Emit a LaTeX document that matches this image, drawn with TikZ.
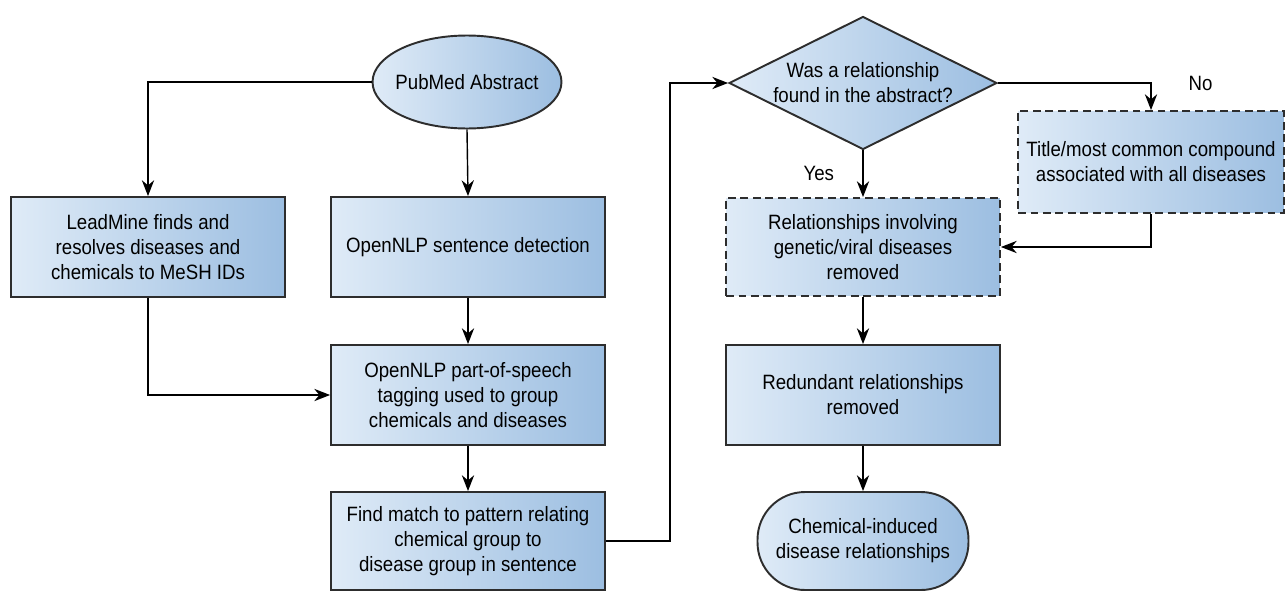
\documentclass[tikz,border=0pt]{standalone}
\usepackage{fontspec}
\setmainfont[FakeStretch=0.9]{Liberation Sans}
\setsansfont[FakeStretch=0.9]{Liberation Sans}
\usetikzlibrary{shapes.geometric,arrows.meta,positioning}
\definecolor{boxlight}{RGB}{223,235,247}
\definecolor{boxdark}{RGB}{156,190,225}
\definecolor{edgegray}{RGB}{45,45,45}
\begin{document}
\begin{tikzpicture}[x=0.02cm,y=-0.02cm,
   font=\sffamily\fontsize{11.8}{14.2}\selectfont,
   fillgrad/.style={left color=boxlight,right color=boxdark,draw=edgegray,line width=1.1pt},
   proc/.style={fillgrad,rectangle,minimum width=5.48cm,minimum height=2cm,align=center,inner sep=2pt},
   opt/.style={proc,dash pattern=on 4.5pt off 2.6pt},
   start/.style={fillgrad,ellipse,minimum width=3.78cm,minimum height=1.86cm,inner xsep=-4pt,inner ysep=0pt},
   decide/.style={fillgrad,diamond,aspect=2,minimum width=5.36cm,minimum height=2.66cm,align=center,inner sep=0pt},
   stop/.style={fillgrad,rectangle,rounded corners=0.95cm,minimum width=4.22cm,minimum height=1.96cm,align=center},
   to/.style={-{Stealth[length=9pt,width=7pt]},line width=0.8pt}]
\useasboundingbox (0,0) rectangle (1285,592);
% left column
\node[start] (abstract) at (467,82) {PubMed Abstract};
\node[proc] (leadmine) at (148,247) {LeadMine finds and\\resolves diseases and\\chemicals to MeSH IDs};
\node[proc] (sentence) at (468,247) {OpenNLP sentence detection};
\node[proc] (postag) at (468,395) {OpenNLP part-of-speech\\tagging used to group\\chemicals and diseases};
\node[proc,minimum height=1.96cm] (match) at (468,541) {Find match to pattern relating\\chemical group to\\disease group in sentence};
% right column
\node[decide] (found) at (863,83) {Was a relationship\\found in the abstract?};
\node[opt,minimum height=1.96cm] (genviral) at (863,247) {Relationships involving\\genetic/viral diseases\\removed};
\node[opt,minimum width=5.32cm,minimum height=2.04cm] (title) at (1151,162) {Title/most common compound\\associated with all diseases};
\node[proc] (redundant) at (863,395) {Redundant relationships\\removed};
\node[stop] (result) at (863,541) {Chemical-induced\\disease relationships};
\coordinate (bend) at (670,541);

\draw[to] (abstract.west) -| (leadmine.north);
\draw[to] (abstract.south) -- (sentence.north);
\draw[to] (leadmine.south) |- (postag.west);
\draw[to] (sentence.south) -- (postag.north);
\draw[to] (postag.south) -- (match.north);
\draw[to] (match.east) -- (bend) |- (found.west);
\draw[to] (found.east) -| node[pos=0.5,right=0.62cm] {No} (title.north);
\draw[to] (found.south) -- node[midway,left=0.45cm] {Yes} (genviral.north);
\draw[to] (title.south) |- (genviral.east);
\draw[to] (genviral.south) -- (redundant.north);
\draw[to] (redundant.south) -- (result.north);
\end{tikzpicture}
\end{document}
